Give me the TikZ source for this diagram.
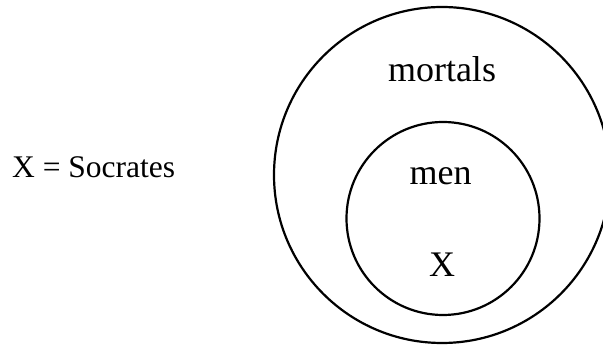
\documentclass[tikz,border=0pt]{standalone}
\usepackage{fontspec}
\setmainfont{Liberation Serif}
\begin{document}
\begin{tikzpicture}[x=1pt,y=1pt,
  ring/.style={draw=black,line width=2.2pt,fill=none},
  label/.style={inner sep=0pt,anchor=base,font=\fontsize{36}{40}\selectfont},
  note/.style={inner sep=0pt,anchor=base west,font=\fontsize{31.5}{36}\selectfont}]
\useasboundingbox (0,0) rectangle (603,345);
\clip (0,0) rectangle (603,345);
\node[ring,circle,minimum size=336pt,inner sep=0pt] (mortalsset) at (442,170) {};
\node[ring,circle,minimum size=193pt,inner sep=0pt] (menset) at (443,126.5) {};
\node[label] (mortals) at (442,263) {mortals};
\node[label] (men) at (440.5,160) {men};
\node[label] (x) at (442,68) {X};
\node[note] (def) at (12,167) {X = Socrates};
\end{tikzpicture}
\end{document}
